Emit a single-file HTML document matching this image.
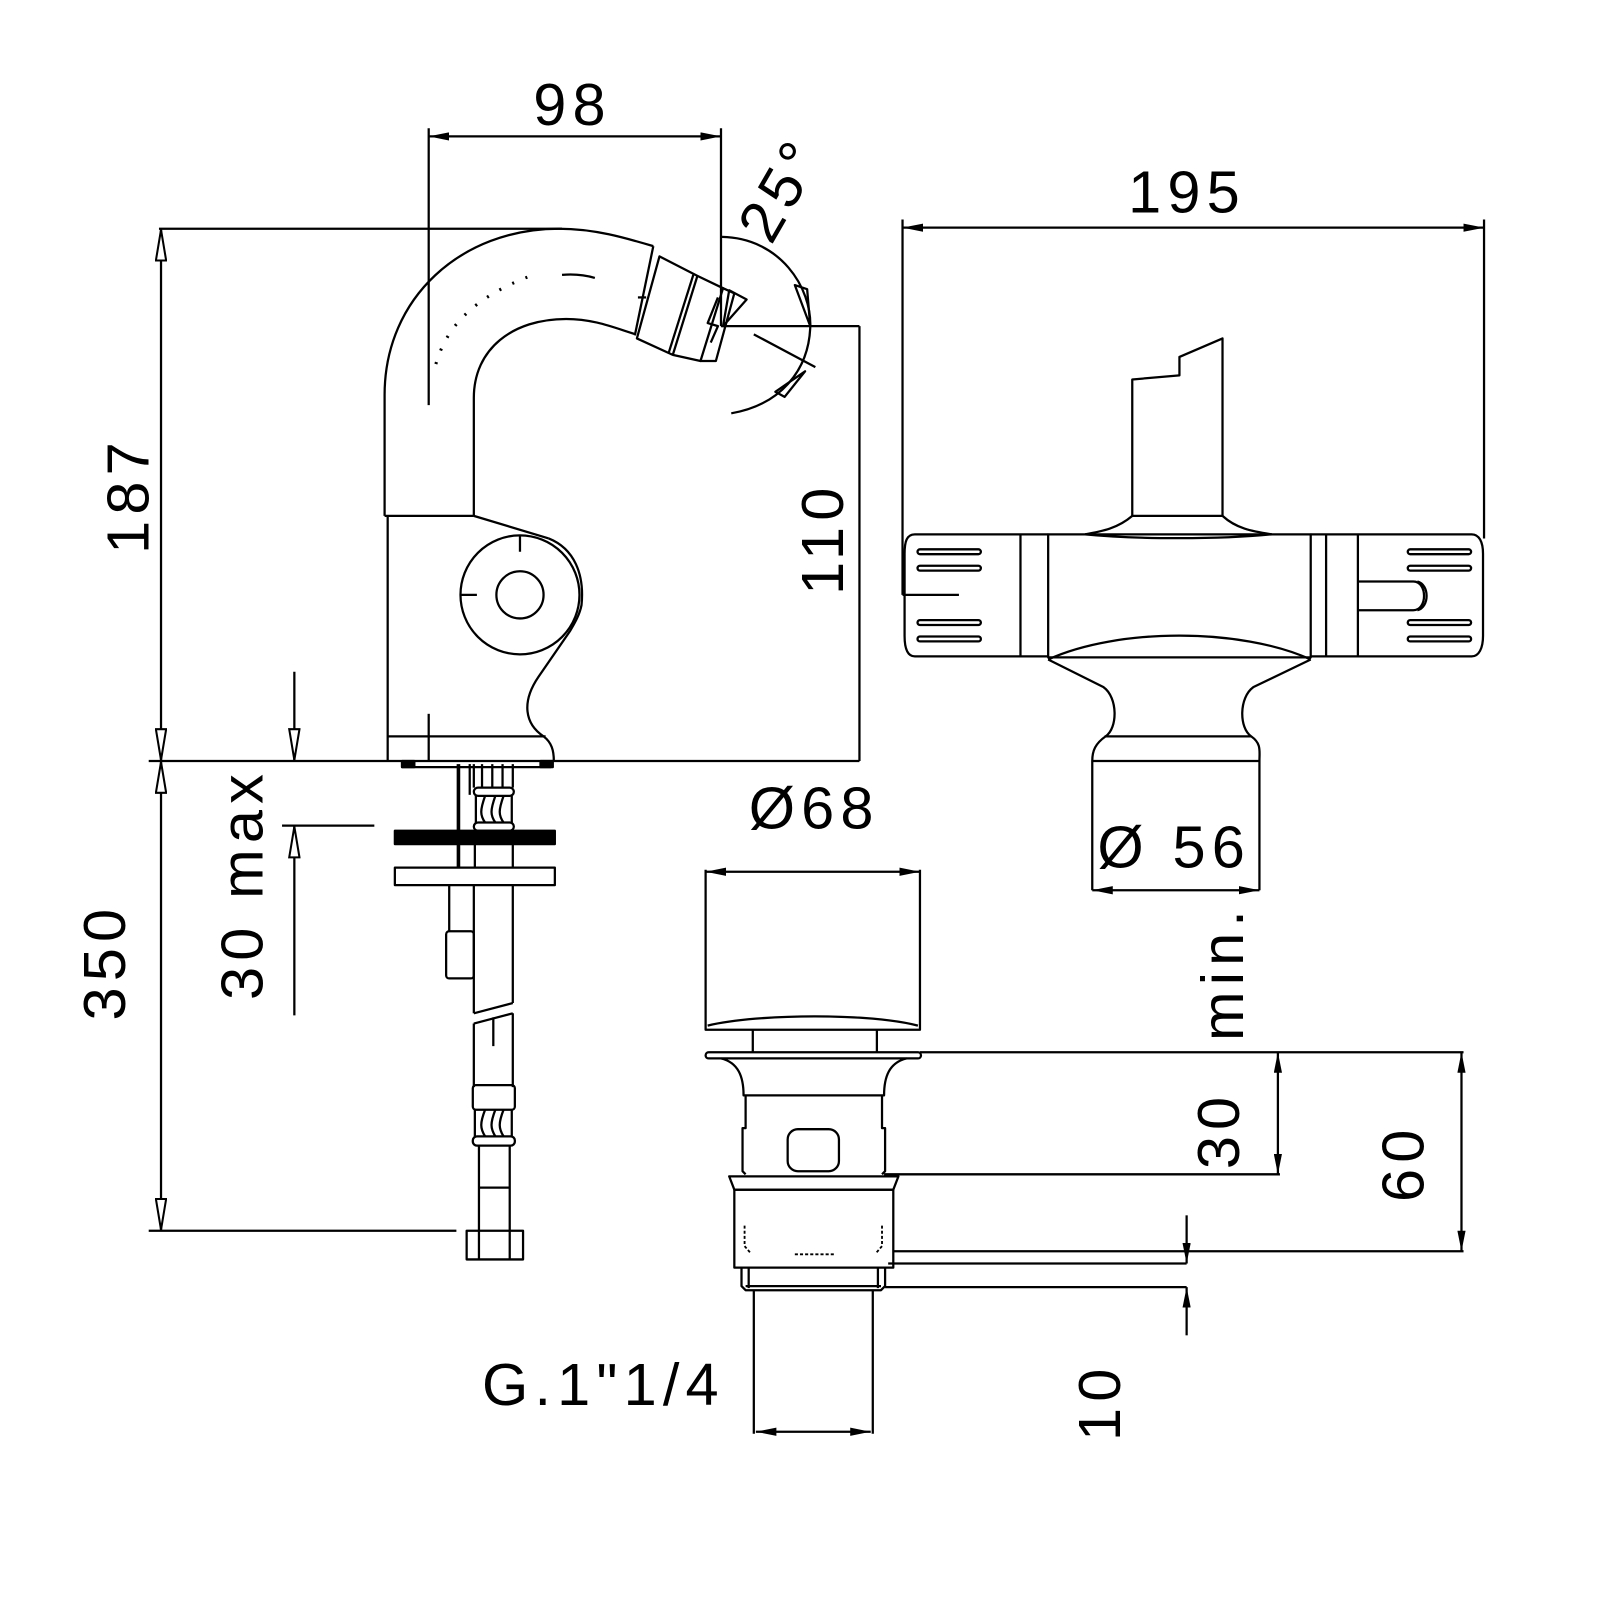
<!DOCTYPE html>
<html><head><meta charset="utf-8"><style>
html,body{margin:0;padding:0;background:#fff}
svg{display:block}
text{font-family:"Liberation Sans",sans-serif;fill:#000;font-size:58px;letter-spacing:6px}
</style></head><body>
<svg width="1600" height="1600" viewBox="0 0 1600 1600" xmlns="http://www.w3.org/2000/svg">
<defs>
<marker id="a" viewBox="0 0 20 8" refX="20" refY="4" markerWidth="20" markerHeight="8" markerUnits="userSpaceOnUse" orient="auto-start-reverse">
<path d="M0,0 L20,4 L0,8 Z" fill="#000"/></marker>
<marker id="o" viewBox="0 0 32 12" refX="32" refY="6" markerWidth="32" markerHeight="12" markerUnits="userSpaceOnUse" orient="auto-start-reverse">
<path d="M1,1 L31,6 L1,11 Z" fill="#fff" stroke="#000" stroke-width="2"/></marker>
</defs>
<g transform="scale(1.0256)">
<g fill="none" stroke="#000" stroke-width="2.2" stroke-linejoin="round">
<line x1="418" y1="133" x2="703" y2="133" marker-start="url(#a)" marker-end="url(#a)"/>
<line x1="418" y1="125" x2="418" y2="395"/>
<line x1="703" y1="125" x2="703" y2="318"/>
<line x1="155" y1="223" x2="548" y2="223"/>
<line x1="157" y1="223" x2="157" y2="742" marker-start="url(#o)" marker-end="url(#o)"/>
<line x1="145" y1="742" x2="838" y2="742"/>
<line x1="703" y1="318" x2="838" y2="318"/>
<line x1="838" y1="318" x2="838" y2="742"/>
<path d="M375,503 V385 C375,290 450,223 545,223 C580,223 610,232 637,240"/>
<path d="M462,503 V388 C462,340 500,311 552,311 C580,311 600,320 620,326"/>
<path d="M637,240 L619,327"/>
<path d="M630,290 L622,290"/>
<path d="M643,250 L680,269 L656,346 L621,330 Z"/>
<path d="M680,269 L705,281 L683,352 L656,346" />
<path d="M676,268 L652,344"/>
<path d="M705,281 L716,286 L698,352 L683,352"/>
<path d="M700,290 L690,315 L700,318 L693,334"/>
<path d="M711,283 L728,292 L705,318 Z"/>
<g stroke-dasharray="2 12" stroke-width="3"><path d="M425,355 C435,320 460,290 520,268"/></g>
<path d="M548,268 C560,267 570,268 580,271"/>
<path d="M704,231 C760,232 792,280 790,320 C788,362 760,395 713,403"/>
<path d="M775,278 L787,282 L790,318 Z"/>
<path d="M785,362 L765,387 L756,382 Z"/>
<line x1="735" y1="326" x2="795" y2="358"/>
<path d="M375,503 H462"/>
<path d="M378,503 V742"/>
<path d="M462,503 L535,525"/>
<circle cx="507" cy="580" r="58"/>
<circle cx="507" cy="580" r="23"/>
<path d="M507,522 V538 M449,580 H465"/>
<path d="M535,525 C560,535 570,560 567,590 C565,600 560,608 556,615 L525,660 C508,685 512,706 530,718 C538,724 540,732 540,742"/>
<path d="M378,718 H532"/>
<path d="M418,696 V742"/>
<path d="M392,742 V748 H537 V742"/>
<rect x="392" y="742" width="12" height="6" fill="#000"/>
<rect x="527" y="742" width="12" height="6" fill="#000"/>
<path d="M447,745 V846" stroke-width="3.5"/>
<path d="M458,745 V775"/>
<path d="M462,745 V768 M470,745 V768 M480,745 V768 M490,745 V768 M500,745 V768"/>
<rect x="462" y="768" width="39" height="8" rx="4"/>
<path d="M464,776 V802 M473,776 C468,790 468,795 473,802 M483,776 C478,790 478,795 483,802 M491,776 C486,790 486,795 491,802 M499,776 V802"/>
<rect x="462" y="802" width="39" height="8" rx="4"/>
<rect x="385" y="810" width="156" height="13" fill="#000"/>
<path d="M463,823 V846 M500,823 V846"/>
<rect x="385" y="846" width="156" height="17"/>
<path d="M438,863 V908 M462,863 V988 M500,863 V978"/>
<rect x="435" y="908" width="27" height="46" rx="3"/>
<path d="M462,988 L500,978 M462,998 L500,988"/>
<path d="M462,998 V1060 M500,988 V1060 M481,992 V1020"/>
<rect x="461" y="1058" width="41" height="24" rx="3"/>
<path d="M463,1082 V1108 M473,1082 C468,1095 468,1100 473,1108 M483,1082 C478,1095 478,1100 483,1108 M491,1082 C486,1095 486,1100 491,1108 M499,1082 V1108"/>
<rect x="461" y="1108" width="41" height="9" rx="4"/>
<path d="M467,1117 V1200 M497,1117 V1200 M467,1158 H497"/>
<rect x="455" y="1200" width="55" height="28"/>
<path d="M467,1200 V1228 M497,1200 V1228"/>
<line x1="287" y1="655" x2="287" y2="742" marker-end="url(#o)"/>
<line x1="287" y1="990" x2="287" y2="805" marker-end="url(#o)"/>
<line x1="275" y1="805" x2="365" y2="805"/>
<line x1="157" y1="742" x2="157" y2="1200" marker-start="url(#o)" marker-end="url(#o)"/>
<line x1="145" y1="1200" x2="445" y2="1200"/>

<line x1="880" y1="222" x2="1447" y2="222" marker-start="url(#a)" marker-end="url(#a)"/>
<line x1="880" y1="214" x2="880" y2="580"/>
<line x1="1447" y1="214" x2="1447" y2="525"/>
<path d="M880,580 H935"/>
<path d="M1104,503 V370 L1150,366 V348 L1192,330 V503 Z"/>
<path d="M1104,503 C1090,515 1075,518 1058,521"/>
<path d="M1192,503 C1205,515 1220,518 1240,521"/>
<path d="M1058,521 C1110,526 1190,526 1240,521"/>
<rect x="1022" y="521" width="256" height="120"/>
<path d="M1022,643 C1090,612 1210,612 1278,643"/>
<path d="M1022,521 H892 C884,521 882,528 882,540 V620 C882,632 885,640 892,640 H1022"/>
<path d="M995,521 V640"/>
<path d="M1278,521 H1435 C1442,521 1446,528 1446,540 V620 C1446,632 1442,640 1435,640 H1278"/>
<path d="M1293,521 V640 M1324,521 V640"/>
<g stroke-width="7" stroke-linecap="round"><path d="M897,538 H954 M897,554 H954 M897,607 H954 M897,623 H954 M1375,538 H1432 M1375,554 H1432 M1375,607 H1432 M1375,623 H1432"/></g>
<g stroke="#fff" stroke-width="2.5" stroke-linecap="round"><path d="M897,538 H954 M897,554 H954 M897,607 H954 M897,623 H954 M1375,538 H1432 M1375,554 H1432 M1375,607 H1432 M1375,623 H1432"/></g>
<path d="M1324,567 H1378 C1392,567 1392,595 1378,595 H1324"/>
<path d="M1382,567 C1394,570 1394,592 1382,595"/>
<path d="M1022,643 L1076,670 C1090,680 1090,710 1078,718 C1068,725 1065,732 1065,742 V868"/>
<path d="M1278,643 L1222,670 C1208,680 1208,710 1220,718 C1230,725 1228,732 1228,742 V868"/>
<path d="M1077,718 H1220 M1065,742 H1228"/>
<line x1="1065" y1="868" x2="1228" y2="868" marker-start="url(#a)" marker-end="url(#a)"/>

<line x1="688" y1="850" x2="897" y2="850" marker-start="url(#a)" marker-end="url(#a)"/>
<path d="M688,848 V1004 H897 V848"/>
<path d="M690,1000 C740,988 850,988 895,1000"/>
<path d="M734,1004 V1026 M855,1004 V1026"/>
<rect x="688" y="1026" width="210" height="6" rx="3"/>
<path d="M703,1032 C720,1036 725,1050 725,1068 H862 C862,1050 867,1036 884,1032"/>
<path d="M727,1068 V1100 H724 V1142 L727,1145 M860,1068 V1100 H863 V1142 L860,1145"/>
<rect x="768" y="1101" width="50" height="41" rx="10"/>
<path d="M711,1147 H876 L871,1160 H716 Z"/>
<rect x="716" y="1160" width="155" height="76"/>
<g stroke-width="1.8" stroke-dasharray="3 2"><path d="M726,1195 V1215 L732,1222 M860,1195 V1215 L854,1222 M775,1223 H815"/></g>
<path d="M723,1236 V1254 L727,1258 H859 L863,1254 V1236 M730,1236 V1256 M856,1236 V1256 M727,1254 H859"/>
<path d="M735,1258 V1398 M851,1258 V1398"/>
<line x1="737" y1="1396" x2="849" y2="1396" marker-start="url(#a)" marker-end="url(#a)"/>
<path d="M897,1026 H1427"/>
<path d="M862,1145 H1248"/>
<path d="M871,1220 H1427"/>
<path d="M866,1232 H1157"/>
<path d="M863,1255 H1157"/>
<line x1="1246" y1="1026" x2="1246" y2="1145" marker-start="url(#a)" marker-end="url(#a)"/>
<line x1="1425" y1="1026" x2="1425" y2="1220" marker-start="url(#a)" marker-end="url(#a)"/>
<line x1="1157" y1="1185" x2="1157" y2="1232" marker-end="url(#a)"/>
<line x1="1157" y1="1302" x2="1157" y2="1255" marker-end="url(#a)"/>
</g>
<text x="520" y="122">98</text>
<text x="1100" y="207">195</text>
<text x="730" y="808">Ø68</text>
<text x="1070" y="846">Ø 56</text>
<text x="470" y="1370">G.1"1/4</text>
<text transform="translate(752,240) rotate(-60)" font-size="48">25°</text>
<text transform="translate(145,540) rotate(-90)">187</text>
<text transform="translate(822,580) rotate(-90)">110</text>
<text transform="translate(122,995) rotate(-90)">350</text>
<text transform="translate(256,975) rotate(-90)">30 max</text>
<text transform="translate(1212,1015) rotate(-90)">min.</text>
<text transform="translate(1208,1140) rotate(-90)">30</text>
<text transform="translate(1388,1172) rotate(-90)">60</text>
<text transform="translate(1092,1405) rotate(-90)">10</text>
</g>
</svg>
</body></html>
